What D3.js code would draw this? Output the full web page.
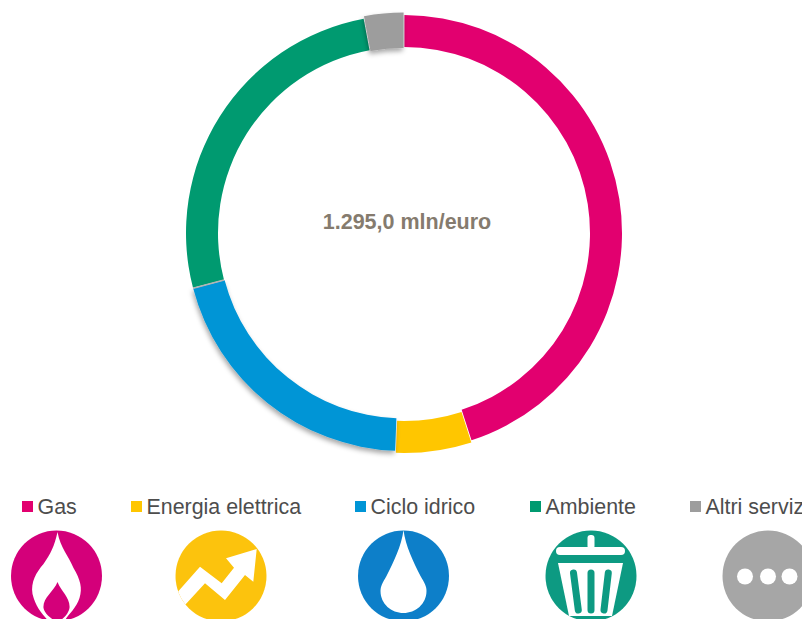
<!DOCTYPE html>
<html>
<head>
<meta charset="utf-8">
<script src="https://cdn.jsdelivr.net/npm/d3@7"></script>
<style>
  html, body { margin: 0; padding: 0; background: #fff; overflow: hidden; }
  text { font-family: "Liberation Sans", Arial, sans-serif; }
</style>
</head>
<body>
<div class="graph"></div>
<script>
var categories = ['Gas', 'Energia elettrica', 'Ciclo idrico', 'Ambiente', 'Altri servizi'];
var values = [583, 72.5, 263, 338.5, 38];
var colors = ['#e2006f', '#ffc600', '#0095d6', '#009a70', '#9d9d9d'];
var iconColors = ['#d4007a', '#fcc30f', '#0a7fc9', '#0f9a82', '#a6a6a6'];
var totalLabel = '1.295,0 mln/euro';

// the slices are not quite the same ring in the original
var innerRadius = [186, 188, 185.5, 186, 185];
var outerRadius = [218, 220, 218, 218, 220.5];
var hasShadow = [false, false, true, false, true];

var legendX = [22, 131, 355, 530, 690];
var iconX = [56.5, 221, 403.5, 591, 768];

var graphSize = { width: 802, height: 619 };
var center = { x: 404, y: 233 };

var svg = d3.select('.graph').append('svg')
  .attr('width', graphSize.width)
  .attr('height', graphSize.height);

var defs = svg.append('defs');
var filter = defs.append('filter')
  .attr('id', 'shadow')
  .attr('x', '-20%').attr('y', '-20%').attr('width', '140%').attr('height', '140%');
filter.append('feDropShadow')
  .attr('dx', -1).attr('dy', 3).attr('stdDeviation', 2.5)
  .attr('flood-color', '#000').attr('flood-opacity', 0.35);

defs.append('filter').attr('id', 'soft')
  .append('feGaussianBlur').attr('stdDeviation', 0.5);

defs.append('clipPath').attr('id', 'iconClip')
  .append('circle').attr('r', 45.5);

var pie = d3.pie().sort(null);
var arc = d3.arc()
  .innerRadius(function(d) { return innerRadius[d.index]; })
  .outerRadius(function(d) { return outerRadius[d.index]; })
  .padAngle(0.004)
  .padRadius(200);
var slices = pie(values);

var ring = svg.append('g')
  .attr('transform', 'translate(' + center.x + ',' + center.y + ')');

ring.selectAll('path')
  .data(slices)
  .enter().append('path')
  .attr('d', arc)
  .attr('fill', function(d) { return colors[d.index]; })
  .attr('filter', function(d) { return hasShadow[d.index] ? 'url(#shadow)' : null; });

// grey seam between Ciclo idrico and Ambiente
var seam = slices[2].endAngle;
ring.append('line')
  .attr('x1', d3.pointRadial(seam, 186)[0]).attr('y1', d3.pointRadial(seam, 186)[1])
  .attr('x2', d3.pointRadial(seam, 218)[0]).attr('y2', d3.pointRadial(seam, 218)[1])
  .attr('stroke', '#b4b4b4')
  .attr('stroke-width', 1.5);

svg.append('text')
  .attr('x', 407).attr('y', 229)
  .attr('text-anchor', 'middle')
  .attr('font-size', 21.5)
  .attr('font-weight', 'bold')
  .attr('fill', '#857b6e')
  .text(totalLabel);

var legend = svg.append('g').selectAll('g')
  .data(categories)
  .enter().append('g')
  .attr('transform', function(d, i) { return 'translate(' + legendX[i] + ',501)'; });
legend.append('rect')
  .attr('width', 11).attr('height', 11)
  .attr('fill', function(d, i) { return colors[i]; });
legend.append('text')
  .attr('x', 15.5).attr('y', 13)
  .attr('font-size', 21.4)
  .attr('fill', '#4d4d4d')
  .text(function(d) { return d; });

// icons, drawn around the centre of each disc
var icons = svg.append('g').selectAll('g')
  .data(categories)
  .enter().append('g')
  .attr('transform', function(d, i) { return 'translate(' + iconX[i] + ',576)'; })
  .attr('filter', 'url(#soft)');
icons.append('circle')
  .attr('r', 45.5)
  .attr('fill', function(d, i) { return iconColors[i]; });

function icon(i) {
  return d3.select(icons.nodes()[i]).append('g').attr('clip-path', 'url(#iconClip)');
}

var flame = icon(0);
flame.append('path').attr('fill', '#fff')
  .attr('d', 'M1,-44 C4,-28 12,-20 17,-8 C24,4 26,12 23,22 C20,32 12,38 8,45 L-8,45 C-16,36 -21,30 -24,18 C-26,6 -20,-4 -13,-12 C-6,-22 -2,-30 1,-44Z');
flame.append('path').attr('fill', iconColors[0])
  .attr('d', 'M1,6 C5,16 14,22 13,32 C12,38 6,44 1,46 C-4,44 -12,38 -13,32 C-14,22 -3,16 1,6Z');

icon(1).append('polygon').attr('fill', '#fff')
  .attr('points', '-46,19 -21,-9.3 0.7,7.3 13,-8.3 5,-17.7 35.7,-27 32.3,5.7 24,-1 4,24 -16,7.3 -36,29');

icon(2).append('path').attr('fill', '#fff')
  .attr('d', 'M0,-46 C2,-30 10,-14 17,0 C21,7 23,10 23,15 C23,28 12,37 0,37 C-12,37 -23,28 -23,15 C-23,10 -21,7 -17,0 C-10,-14 -2,-30 0,-46Z');

var bin = icon(3);
bin.append('rect').attr('fill', '#fff')
  .attr('x', -3.5).attr('y', -41).attr('width', 7).attr('height', 14).attr('rx', 3);
bin.append('rect').attr('fill', '#fff')
  .attr('x', -35).attr('y', -29).attr('width', 69).attr('height', 8).attr('rx', 4);
bin.append('path').attr('fill', '#fff')
  .attr('d', 'M-33,-13 L32,-13 L21,40 L-22,40Z');
bin.selectAll('line')
  .data([[-17.5, -12.7], [0, 0], [17.3, 13]])
  .enter().append('line')
  .attr('x1', function(d) { return d[0]; }).attr('y1', -3)
  .attr('x2', function(d) { return d[1]; }).attr('y2', 34)
  .attr('stroke', iconColors[3])
  .attr('stroke-width', 7)
  .attr('stroke-linecap', 'round');

icon(4).selectAll('circle')
  .data([-23, 0, 21.5])
  .enter().append('circle')
  .attr('cx', function(d) { return d; })
  .attr('cy', 0.5)
  .attr('r', 8)
  .attr('fill', '#fff');
</script>
</body>
</html>
